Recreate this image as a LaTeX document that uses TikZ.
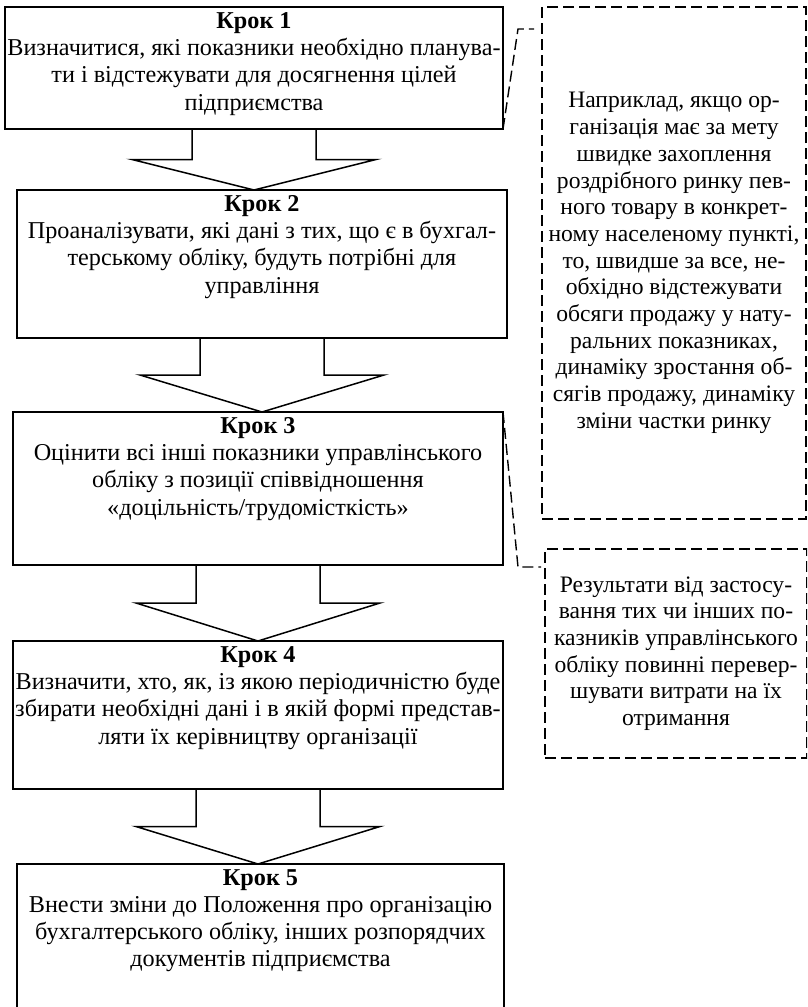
\documentclass[tikz,border=0pt]{standalone}
\usepackage{fontspec}
\setmainfont{Liberation Serif}
\usetikzlibrary{calc}
\tikzset{
    RS/.style ={rectangle, draw, line width=1.5pt, inner sep=0pt, outer sep=0pt, anchor=north west},
    RD/.style ={rectangle, draw, line width=1.4pt, dash pattern=on 11pt off 5pt, inner sep=0pt, outer sep=0pt, anchor=north west, align=center, font=\fontsize{23.6}{26.7}\selectfont},
    TX/.style ={anchor=north, align=center, inner sep=0pt, font=\fontsize{24.2}{27.3}\selectfont},
    DL/.style ={line width=1.4pt, dash pattern=on 11pt off 5pt},
    AR/.style ={line width=1.5pt, line join=miter}
}

\begin{document}
\begin{tikzpicture}[x=1pt,y=-1pt]
        \clip (0,0) rectangle (807,1007);
        % steps
        \node[RS, minimum width=498pt, minimum height=122pt] (s1) at (5,7) {};
        \node[RS, minimum width=490pt, minimum height=148pt] (s2) at (17,190) {};
        \node[RS, minimum width=490pt, minimum height=153pt] (s3) at (13,412) {};
        \node[RS, minimum width=490pt, minimum height=148pt] (s4) at (13,641) {};
        \node[RS, minimum width=487pt, minimum height=170pt] (s5) at (17,864) {};
        \node[TX] (t1) at ($(s1.north)+(0,5)$) {\textbf{Крок 1}\\Визначитися, які показники необхідно планува-\\ти і відстежувати для досягнення цілей\\підприємства};
        \node[TX] (t2) at ($(s2.north)+(0,5)$) {\textbf{Крок 2}\\Проаналізувати, які дані з тих, що є в бухгал-\\терському обліку, будуть потрібні для\\управління};
        \node[TX] (t3) at ($(s3.north)+(0,5)$) {\textbf{Крок 3}\\Оцінити всі інші показники управлінського\\обліку з позиції співвідношення\\«доцільність/трудомісткість»};
        \node[TX] (t4) at ($(s4.north)+(0,5)$) {\textbf{Крок 4}\\Визначити, хто, як, із якою періодичністю буде\\збирати необхідні дані і в якій формі представ-\\ляти їх керівництву організації};
        \node[TX] (t5) at ($(s5.north)+(0,5)$) {\textbf{Крок 5}\\Внести зміни до Положення про організацію\\бухгалтерського обліку, інших розпорядчих\\документів підприємства};
        % arrows between steps
        \foreach \a/\b in {s1/s2,s2/s3,s3/s4,s4/s5}{
            \coordinate (tip) at (\a.south |- \b.north);
            \coordinate (mid) at ($(\a.south)!.5!(tip)$);
            \draw[AR] ($(\a.south)+(-62,0)$) -- ($(mid)+(-62,0)$) -- ($(mid)+(-122,0)$) -- (tip)
                      -- ($(mid)+(122,0)$) -- ($(mid)+(62,0)$) -- ($(\a.south)+(62,0)$);}
        % notes
        \node[RD, minimum width=264pt, minimum height=512pt] (n1) at (542,7) {Наприклад, якщо ор-\\ганізація має за мету\\швидке захоплення\\роздрібного ринку пев-\\ного товару в конкрет-\\ному населеному пункті,\\то, швидше за все, не-\\обхідно відстежувати\\обсяги продажу у нату-\\ральних показниках,\\динаміку зростання об-\\сягів продажу, динаміку\\зміни частки ринку};
        \node[RD, minimum width=262pt, minimum height=209pt] (n2) at (545,549) {Результати від застосу-\\вання тих чи інших по-\\казників управлінського\\обліку повинні перевер-\\шувати витрати на їх\\отримання};
        \draw[DL] (s1.south east) -- ($(n1.north west)+(-24,22)$) -- ($(n1.north west)+(-8,22)$);
        \draw[DL] (s3.north east) -- ($(n2.north west)+(-27,18)$) -- ($(n2.north west)+(-4,18)$);
    \end{tikzpicture}
\end{document}
